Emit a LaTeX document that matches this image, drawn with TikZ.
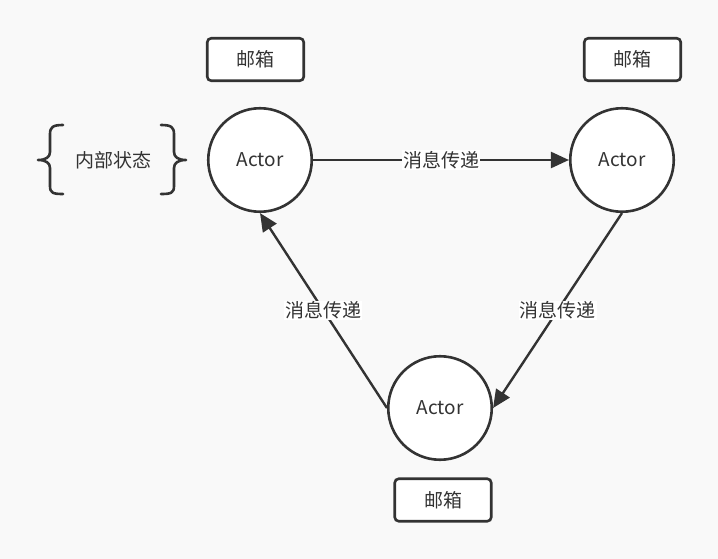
\documentclass[tikz,border=0pt]{standalone}
\usepackage{fontspec}
\setmainfont{Noto Sans CJK SC}
\usetikzlibrary{arrows.meta}
\definecolor{bg}{HTML}{F9F9F9}
\definecolor{ink}{HTML}{333333}
\tikzset{
  actor/.style={circle, draw=ink, fill=white, line width=2.6pt, minimum size=103.5pt, inner sep=0pt, text=ink, font=\fontsize{19}{21}\selectfont},
  mailbox/.style={rectangle, rounded corners=4pt, draw=ink, fill=white, line width=2.6pt, minimum width=96.5pt, minimum height=42.5pt, inner sep=0pt, text=ink, font=\fontsize{19}{21}\selectfont},
  msg/.style={draw=ink, line width=2.4pt, -{Triangle[length=18pt,width=16pt]}},
  msglabel/.style={fill=white, inner sep=1pt, text=ink, font=\fontsize{19}{21}\selectfont},
  bracepath/.style={draw=ink, line width=2.6pt, line cap=round, line join=round},
  plain/.style={text=ink, font=\fontsize{19}{21}\selectfont}
}
\begin{document}
\begin{tikzpicture}[x=1pt, y=-1pt]
\fill[bg] (0,0) rectangle (718,559);
\useasboundingbox (0,0) rectangle (718,559);
% actors
\node[actor] (a1) at (260,160) {Actor};
\node[actor] (a2) at (622,160) {Actor};
\node[actor] (a3) at (440,408) {Actor};
% mailboxes
\node[mailbox] (m1) at (255.5,59.5) {邮箱};
\node[mailbox] (m2) at (632.5,59.5) {邮箱};
\node[mailbox] (m3) at (443,500) {邮箱};
% internal state
\node[plain] (st) at (113,160) {内部状态};
\draw[bracepath] (63,125) .. controls (53,125) and (50,127) .. (50,134)
  -- (50,152) .. controls (50,157) and (46,160) .. (38,160)
  .. controls (46,160) and (50,163) .. (50,168)
  -- (50,186) .. controls (50,193) and (53,194) .. (63,194);
\draw[bracepath] (161,125) .. controls (171,125) and (174,127) .. (174,134)
  -- (174,152) .. controls (174,157) and (178,160) .. (186,160)
  .. controls (178,160) and (174,163) .. (174,168)
  -- (174,186) .. controls (174,193) and (171,194) .. (161,194);
% messages
\draw[msg] (a1.east) -- node[msglabel] (l1) {消息传递} (a2.west);
\draw[msg] (a2.south) -- node[msglabel] (l2) {消息传递} (a3.east);
\draw[msg] (a3.west) -- node[msglabel] (l3) {消息传递} (a1.south);
\end{tikzpicture}
\end{document}
